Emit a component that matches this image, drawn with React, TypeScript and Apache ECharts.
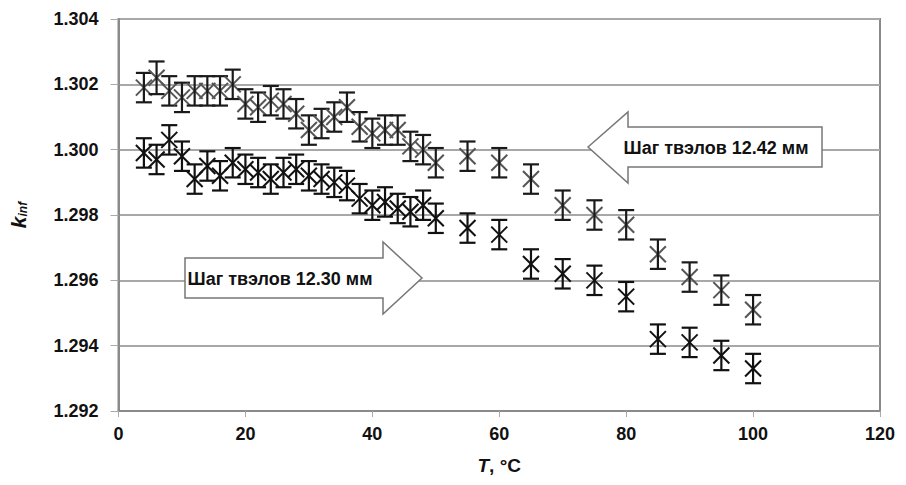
import React, { useEffect, useRef } from "react";
import * as echarts from "echarts";

const temps = [4, 6, 8, 10, 12, 14, 16, 18, 20, 22, 24, 26, 28, 30, 32, 34, 36, 38, 40, 42, 44, 46, 48, 50, 55, 60, 65, 70, 75, 80, 85, 90, 95, 100];

const kPitch1242 = [1.3019, 1.3022, 1.3018, 1.3016, 1.3018, 1.3018, 1.3018, 1.302, 1.3014, 1.3013, 1.3015, 1.3014, 1.3011, 1.3006, 1.3008, 1.301, 1.3013, 1.3007, 1.3005, 1.3006, 1.3006, 1.3001, 1.3, 1.2996, 1.2998, 1.2996, 1.2991, 1.2983, 1.298, 1.2977, 1.2968, 1.2961, 1.2957, 1.2951];
const err1242 = [0.00045, 0.0005, 0.00045, 0.00045, 0.00045, 0.00045, 0.00045, 0.00045, 0.00045, 0.00045, 0.00045, 0.00045, 0.00045, 0.00045, 0.00045, 0.00045, 0.00045, 0.00045, 0.00045, 0.00045, 0.00045, 0.00045, 0.00045, 0.00045, 0.00045, 0.00045, 0.00045, 0.00045, 0.00045, 0.00045, 0.00045, 0.00045, 0.00045, 0.00045];

const kPitch1230 = [1.2999, 1.2997, 1.3003, 1.2998, 1.2991, 1.2995, 1.2992, 1.2996, 1.2994, 1.2993, 1.2991, 1.2993, 1.2994, 1.2992, 1.2991, 1.299, 1.2989, 1.2985, 1.2983, 1.2984, 1.2982, 1.2981, 1.2983, 1.2979, 1.2976, 1.2974, 1.2965, 1.2962, 1.296, 1.2955, 1.2942, 1.2941, 1.2937, 1.2933];
const err1230 = [0.00045, 0.00045, 0.00045, 0.00045, 0.00045, 0.00045, 0.00045, 0.00045, 0.00045, 0.00045, 0.00045, 0.00045, 0.00045, 0.00045, 0.00045, 0.00045, 0.00045, 0.00045, 0.00045, 0.00045, 0.00045, 0.00045, 0.00045, 0.00045, 0.00045, 0.00045, 0.00045, 0.00045, 0.00045, 0.00045, 0.00045, 0.00045, 0.00045, 0.00045];

const label1242 = "Шаг твэлов 12.42 мм";
const label1230 = "Шаг твэлов 12.30 мм";

const FONT = "'Liberation Sans', Arial, sans-serif";

function buildData(vals: number[], errs: number[]) {
  return temps.map((t, i) => [t, vals[i], vals[i] - errs[i], vals[i] + errs[i]]);
}

function renderErr(color: string, xColor: string) {
  return (params: any, api: any) => {
    const x = api.value(0);
    const c = api.coord([x, api.value(1)]);
    const lo = api.coord([x, api.value(2)]);
    const hi = api.coord([x, api.value(3)]);
    const cap = 8;
    const s = 8;
    const st = { stroke: color, lineWidth: 2.2 };
    const sx = { stroke: xColor, lineWidth: 2 };
    return {
      type: "group",
      children: [
        { type: "line", shape: { x1: c[0] - s, y1: c[1] - s, x2: c[0] + s, y2: c[1] + s }, style: sx },
        { type: "line", shape: { x1: c[0] - s, y1: c[1] + s, x2: c[0] + s, y2: c[1] - s }, style: sx },
        { type: "line", shape: { x1: lo[0], y1: lo[1], x2: hi[0], y2: hi[1] }, style: st },
        { type: "line", shape: { x1: hi[0] - cap, y1: hi[1], x2: hi[0] + cap, y2: hi[1] }, style: st },
        { type: "line", shape: { x1: lo[0] - cap, y1: lo[1], x2: lo[0] + cap, y2: lo[1] }, style: st },
      ],
    };
  };
}

export default function App() {
  const ref = useRef<HTMLDivElement>(null);
  useEffect(() => {
    if (!ref.current) return;
    const chart = echarts.init(ref.current, undefined, { renderer: "svg" });
    const option: any = {
      animation: false,
      backgroundColor: "#ffffff",
      grid: {
        left: 111,
        right: 26,
        top: 19,
        bottom: 74,
        show: true,
        borderColor: "#8a8a8a",
        borderWidth: 2,
        backgroundColor: "transparent",
      },
      xAxis: {
        type: "value",
        min: 0,
        max: 120,
        interval: 20,
        name: "{t|T}{r|, °C}",
        nameLocation: "middle",
        nameGap: 45,
        nameTextStyle: {
          rich: {
            t: { fontFamily: FONT, fontSize: 19, fontWeight: "bold", fontStyle: "italic", color: "#111" },
            r: { fontFamily: FONT, fontSize: 19, fontWeight: "bold", color: "#111" },
          },
        },
        axisLine: { show: true, lineStyle: { color: "#8a8a8a", width: 2 } },
        axisTick: { show: true, length: 6, lineStyle: { color: "#aaa" } },
        axisLabel: { fontFamily: FONT, fontSize: 18, fontWeight: "bold", color: "#111", margin: 14 },
        splitLine: { show: false },
      },
      yAxis: {
        type: "value",
        min: 1.292,
        max: 1.304,
        interval: 0.002,
        name: "{k|k}{s|inf}",
        nameLocation: "middle",
        nameRotate: 90,
        nameGap: 88,
        nameTextStyle: {
          rich: {
            k: { fontFamily: FONT, fontSize: 21, fontStyle: "italic", fontWeight: "bold", color: "#111", lineHeight: 24 },
            s: { fontFamily: FONT, fontSize: 12, fontStyle: "italic", fontWeight: "bold", color: "#111", lineHeight: 24, padding: [9, 0, 0, 0] },
          },
        },
        axisLine: { show: true, lineStyle: { color: "#8a8a8a", width: 2 } },
        axisTick: { show: true, length: 8, lineStyle: { color: "#aaa" } },
        axisLabel: {
          fontFamily: FONT,
          fontSize: 18,
          fontWeight: "bold",
          color: "#111",
          margin: 20,
          formatter: (v: number) => v.toFixed(3),
        },
        splitLine: { show: true, lineStyle: { color: "#a8a8a8", width: 2 } },
      },
      series: [
        {
          name: label1242,
          type: "custom",
          renderItem: renderErr("#1a1a1a", "#555"),
          data: buildData(kPitch1242, err1242),
          encode: { x: 0, y: [1, 2, 3] },
          z: 3,
        },
        {
          name: label1230,
          type: "custom",
          renderItem: renderErr("#111", "#111"),
          data: buildData(kPitch1230, err1230),
          encode: { x: 0, y: [1, 2, 3] },
          z: 3,
        },
      ],
      graphic: [
        {
          type: "polygon",
          z: 10,
          shape: {
            points: [
              [588, 147],
              [628, 112],
              [628, 127],
              [822, 127],
              [822, 167],
              [628, 167],
              [628, 183],
            ],
          },
          style: { fill: "#fff", stroke: "#777", lineWidth: 1.5 },
        },
        {
          type: "text",
          z: 11,
          x: 716,
          y: 148,
          style: {
            text: label1242,
            fontFamily: FONT,
            fontSize: 18,
            fontWeight: "bold",
            fill: "#111",
            align: "center",
            verticalAlign: "middle",
          },
        },
        {
          type: "polygon",
          z: 10,
          shape: {
            points: [
              [185, 258],
              [383, 258],
              [383, 242],
              [422, 278],
              [383, 314],
              [383, 298],
              [185, 298],
            ],
          },
          style: { fill: "#fff", stroke: "#777", lineWidth: 1.5 },
        },
        {
          type: "text",
          z: 11,
          x: 280,
          y: 279,
          style: {
            text: label1230,
            fontFamily: FONT,
            fontSize: 18,
            fontWeight: "bold",
            fill: "#111",
            align: "center",
            verticalAlign: "middle",
          },
        },
      ],
    };
    chart.setOption(option);
    return () => chart.dispose();
  }, []);
  return <div ref={ref} style={{ position: "absolute", left: 0, top: 0, width: 906, height: 485 }} />;
}
